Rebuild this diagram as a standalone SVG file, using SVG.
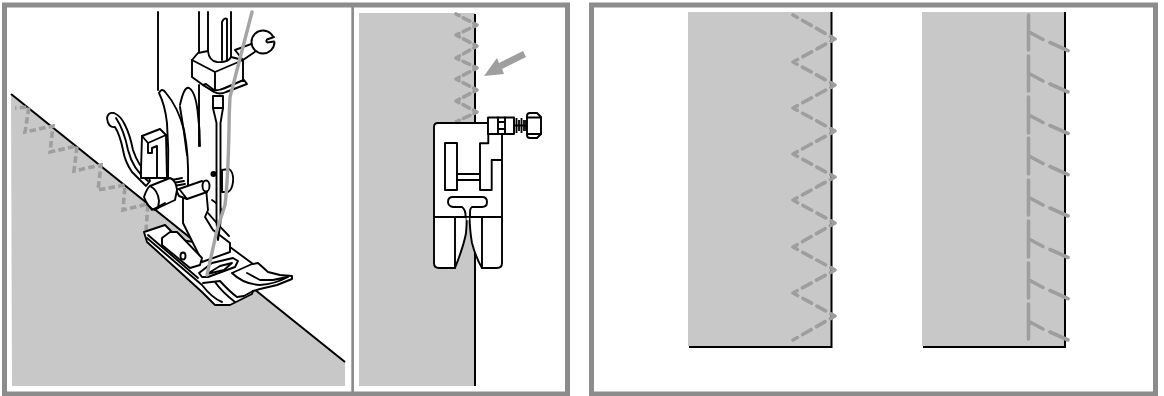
<svg xmlns="http://www.w3.org/2000/svg" width="1164" height="396" viewBox="0 0 1164 396">
<style>
.frame{fill:none;stroke:#8c8c8c;stroke-width:5}
.fab{fill:#c8c8c8;stroke:none}
.k{fill:none;stroke:#000;stroke-width:1.9;stroke-linecap:round;stroke-linejoin:round}
.w{fill:#fff;stroke:#000;stroke-width:1.9;stroke-linecap:round;stroke-linejoin:round}
.e{fill:none;stroke:#000;stroke-width:2}
.st{fill:none;stroke:#9e9e9e;stroke-width:3.6;stroke-linecap:round;stroke-linejoin:round}
.zz{stroke-dasharray:0.62 0.38;stroke-dashoffset:0.31}
.zs{stroke-dasharray:6.5 3.3;stroke-dashoffset:5;stroke-linecap:butt;stroke-linejoin:miter}
.th{fill:none;stroke:#a5a5a5;stroke-width:3.4;stroke-linecap:round}
</style>
<rect width="1164" height="396" fill="#fff"/>
<g id="frames">
<rect class="frame" x="4.5" y="5" width="563" height="389"/>
<rect class="frame" x="591.5" y="5" width="564" height="389"/>
<rect x="351.3" y="5" width="2.7" height="388" fill="#8c8c8c"/>
</g>
<g id="panel-sewing">
<path class="fab" d="M11,94L345,362V386H12Z"/>
<path class="e" d="M11,94L345,362"/>
<path class="st zs" d="M15,108L29,107L25,132L53,126L50,152L77,146L74,171L101,165L98,190L125,185L123,210L148,204L146,230"/>
<path class="k" d="M158,12V90"/>
<path class="k" d="M199,12V53M208,12V54M231,12V60M222,60V22Q224.500,17 227,19V60"/>
<path class="k" d="M159,93Q162,87 166,93Q178,107 184,130Q189,155 188,185M159,93Q165,105 167,123Q169,150 168,178"/>
<path class="k" d="M180,105Q184,86 189,88Q196,92 198,115Q200,130 200,146M180,107Q184,130 187,155"/>
<path class="k" d="M199,85V146"/>
<path class="w" d="M235,50L257,42L259,49L243,60Z"/>
<circle class="w" cx="263" cy="42" r="11.500"/>
<path d="M266,40.500L276,36.500V41.500L267,43Z" fill="#fff"/>
<path class="k" d="M274,37L267,39.500Q265.500,41.500 267.500,42.500L274,41.500"/>
<path class="w" d="M192,60L198,53L208,51Q209,61 217,62Q228,63 231,57L243,60V80L215,92L203,85L192,77Z"/>
<path class="k" d="M192,60L215,72L243,60M215,72V92"/>
<path class="w" d="M203,85L214,92Q220,95 226,92L247,84L244,80L228,87Q219,91 214,90L206,84Z"/>
<path class="w" d="M229,169Q234,172 233,182Q232,190 228,192L222,192V170Z"/>
<circle cx="213.500" cy="174" r="3" fill="#000"/>
<path class="w" d="M107,118Q108,112 114,113Q121,116 125,125Q130,135 133,150Q138,165 148,175L150,181L146,186L132,172Q125,162 123,150Q120,135 115,127Q108,128 107,118Z"/>
<path class="k" d="M116,118Q124,130 128,150Q133,170 148,181"/>
<path class="w" d="M142,136L160,129L166,135L167,178H141V170Z"/>
<path class="k" d="M142,136L148,143L166,135M148,143V153H152V148L157,146V178"/>
<path class="w" d="M144,232L165,225L180,240L230,247L253,264L258,263L268,272L280,275L292,276V279L277,285L260,289L253,291L252,294L230,305H215L202,292L147,242Z"/>
<path class="k" d="M148,235L198,278M147,238L202,285Q212,298 222,302M232,273L252,264M232,273Q243,284 260,285Q275,284 288,277M203,283L220,281M215,282Q222,292 235,302M220,281Q230,292 237,297L244,296L253,291M247,273L260,280H273L287,277"/>
<path class="w" d="M183,197V223L200,257L202,262L230,252V243L213,230L205,217L208,210L206,188Z"/>
<path class="k" d="M208,213Q218,225 229,236M212,200Q220,205 222,212"/>
<path class="w" d="M162,245V238L170,232H177L202,258L200,265L190,268Z"/>
<ellipse class="k" cx="183" cy="256" rx="2.500" ry="3.500"/>
<path class="w" d="M176,190L202,181L208,185L207,192L187,199L179,196Z"/>
<path class="k" d="M180,190L187,199"/>
<ellipse class="w" cx="206" cy="186" rx="3.500" ry="5.500"/>
<path class="k" d="M172,180L182,178M173,183L184,181M174,186L185,184"/>
<path class="w" d="M144,197Q147,188 150,186L170,178Q176,180 177,190L175,200L158,208L155,210Q148,208 144,197Z"/>
<path class="k" d="M150,186Q158,190 159,201L158,208M147,204L152,210L165,203"/>
<path class="w" d="M213,96V108L216.500,123V222L218,240L220.500,222V123L223,108V96Z"/>
<path class="k" d="M213,108H223"/>
<path class="w" d="M199,273L212,263L233,258L238,261L235,267L208,277L202,277Z"/>
<path class="k" d="M207,274L220,266L232,263L224,270Z"/>
<path class="th" d="M252,12L230,97Q229,115 229,130Q228,180 225,205L217,230L207,275"/>
</g>
<g id="panel-foot-front">
<rect class="fab" x="359" y="13" width="116" height="373"/>
<path class="e" d="M475,14V386"/>
<path class="st zz" pathLength="20" d="M456,14L477,25L456,35L477,46L456,58L477,68L456,79L477,90L456,101L477,112L456,122"/>
<path class="w" d="M434,127Q434,123 438,123H488V134H502V263Q502,268 497,268H482Q476,258 472,243Q470,232 469.500,217H466.500Q467,222 466,233Q464,245 455,268H439Q434,268 434,263Z"/>
<path class="k" d="M434,217H502M455,217V268M482,217V268"/>
<path class="w" d="M453,197H482Q487,197 487,202Q487,207 482,207H472Q470,208 470,213V217H465.500Q466,210 462,207H453Q448,206 448,202Q448,197 453,197Z"/>
<path d="M466.500,219H469" stroke="#fff" stroke-width="2.500"/>
<rect class="k" x="445" y="143" width="12" height="47"/>
<path class="k" d="M457,174H480M457,180H480M480,190V143.300H488.300V134M480,190H491.700V160H502"/>
<rect class="w" x="488" y="117.500" width="26" height="16.500"/>
<path class="k" d="M498,117.500V134M505,117.500V134M498,122H505M498,129H505"/>
<path d="M514,120V131M516.500,118V133M519,120V131M521.500,118V133M524,120V131M526,120V131" fill="none" stroke="#000" stroke-width="1.800"/>
<path class="k" d="M514,125.500H527"/>
<path class="w" d="M530,113H537L541,117V134L537,138H530Q527,138 527,135V116Q527,113 530,113Z"/>
<path class="k" d="M527,117.500H541M527,134H541"/>
<polygon points="484,76 497,58 499,63 523,51 526,57 502,69 504,74" fill="#9e9e9e"/>
</g>
<g id="panel-zigzag">
<rect class="fab" x="688" y="12" width="144" height="334"/>
<path class="e" d="M831.500,12V346M689,347H832.500"/>
<path class="st zz" pathLength="42" d="M793,15L835,39L793,62L835,85L793,108L835,131L793,154L835,177L793,200L835,223L793,247L835,270L793,293L835,316L793,340"/>
</g>
<g id="panel-overlock">
<rect class="fab" x="922" y="12" width="143" height="334"/>
<path class="e" d="M1065,12V346M923,347H1066"/>
<path class="st" d="M1028.500,15V50M1029,32L1043,39.500M1050,42.500L1068,50.700M1028.500,56V91M1029,73.500L1043,81M1050,84L1068,92M1028.500,97V133M1029,115L1043,122.500M1050,125.500L1068,133.500M1028.500,138V174M1029,156L1043,163.500M1050,166.500L1068,174.700M1028.500,180V215M1029,197.500L1043,205M1050,208L1068,216M1028.500,221V257M1029,239L1043,246.500M1050,249.500L1068,257.500M1028.500,263V298M1029,280L1043,287.500M1050,290.500L1068,298.700M1028.500,304V339M1029,321.500L1043,329M1050,332L1068,340"/>
</g>
</svg>
